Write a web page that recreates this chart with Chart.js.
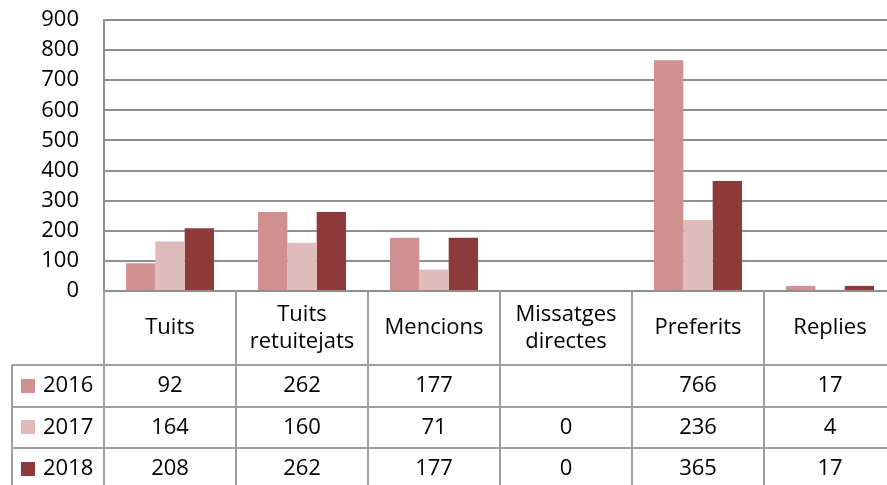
<!DOCTYPE html>
<html>
<head>
<meta charset="utf-8">
<script src="https://cdn.jsdelivr.net/npm/chart.js@4"></script>
<style>
  html, body { margin: 0; padding: 0; background: #fff; overflow: hidden; }
  #wrap { width: 887px; height: 485px; overflow: hidden; }
  canvas { display: block; }
</style>
</head>
<body>
<div id="wrap"><canvas id="chart" width="900" height="485"></canvas></div>
<script>
'use strict';

// ─── Data ─────────────────────────────────────────────────────────────────────
const categories = [['Tuits'], ['Tuits', 'retuitejats'], ['Mencions'], ['Missatges', 'directes'], ['Preferits'], ['Replies']];
const years      = ['2016', '2017', '2018'];
const values2016 = [92, 262, 177, null, 766, 17];
const values2017 = [164, 160, 71, 0, 236, 4];
const values2018 = [208, 262, 177, 0, 365, 17];
const yTicks     = [0, 100, 200, 300, 400, 500, 600, 700, 800, 900];

// ─── Style ────────────────────────────────────────────────────────────────────
const COLORS    = ['#d09191', '#e0bbbb', '#8e3a3a'];
const GRID      = '#8f8f8f';
const TABLE     = '#a0a0a0';
const FONT      = '"Open Sans", "DejaVu Sans", sans-serif';
const FONT_SIZE = 22;

const PLOT_LEFT  = 104;
const HEADER_H   = 74;   // category header row
const ROW_H      = 41.5; // one data row
const LEGEND_X   = 12;

// ─── Data table plugin (drawn below the x axis) ───────────────────────────────
const dataTable = {
  id: 'dataTable',
  afterDraw(chart) {
    const { ctx, chartArea } = chart;
    const x = chart.scales.x;
    const top = chartArea.bottom;
    const catW = x.getPixelForValue(1) - x.getPixelForValue(0);
    const bottom = chart.height + 10;
    const series = chart.data.datasets;

    ctx.save();
    ctx.strokeStyle = TABLE;
    ctx.lineWidth = 2;

    // vertical separators
    ctx.beginPath();
    for (let i = 0; i < categories.length; i++) {
      const lx = Math.round(x.getPixelForValue(i) - catW / 2);
      ctx.moveTo(lx, top);
      ctx.lineTo(lx, bottom);
    }
    const headerBottom = top + HEADER_H;
    ctx.moveTo(LEGEND_X, headerBottom);
    ctx.lineTo(LEGEND_X, bottom);
    // horizontal row lines
    for (let r = 0; r < series.length; r++) {
      const ly = Math.round(headerBottom + r * ROW_H);
      ctx.moveTo(LEGEND_X, ly);
      ctx.lineTo(chart.width, ly);
    }
    ctx.stroke();

    ctx.fillStyle = '#000';
    ctx.font = `${FONT_SIZE}px ${FONT}`;
    ctx.textAlign = 'center';
    ctx.textBaseline = 'middle';

    // header
    categories.forEach((lines, i) => {
      const cx = x.getPixelForValue(i);
      const cy = top + HEADER_H / 2;
      const lh = 27;
      lines.forEach((t, k) => {
        ctx.fillText(t, cx, cy + (k - (lines.length - 1) / 2) * lh);
      });
    });

    // rows
    series.forEach((ds, r) => {
      const cy = headerBottom + r * ROW_H + ROW_H / 2;
      ctx.fillStyle = ds.backgroundColor;
      ctx.fillRect(21, Math.round(cy - 7), 14, 14);
      ctx.fillStyle = '#000';
      ctx.textAlign = 'left';
      ctx.fillText(ds.label, 43, cy);
      ctx.textAlign = 'center';
      ds.data.forEach((v, i) => {
        if (v == null) return;
        ctx.fillText(String(v), x.getPixelForValue(i), cy);
      });
    });
    ctx.restore();
  },
};

// ─── Chart ────────────────────────────────────────────────────────────────────
new Chart(document.getElementById('chart').getContext('2d'), {
  type: 'bar',
  data: {
    labels: categories.map(c => c.join(' ')),
    datasets: years.map((y, i) => ({
      label: y,
      data: [values2016, values2017, values2018][i],
      backgroundColor: COLORS[i],
      borderColor: COLORS[i],
      borderWidth: 0,
      categoryPercentage: 0.667,
      barPercentage: 1,
    })),
  },
  options: {
    responsive: false,
    devicePixelRatio: 1,
    animation: false,
    layout: { padding: { top: 20, right: 4, bottom: 485 - 291, left: 0 } },
    plugins: { legend: { display: false }, tooltip: { enabled: false } },
    scales: {
      x: { display: false },
      y: {
        min: 0,
        max: 900,
        afterFit: s => {
          s.width = PLOT_LEFT;
          s.paddingTop = 0;
          s.paddingBottom = 0;
        },
        afterBuildTicks: s => { s.ticks = yTicks.map(v => ({ value: v })); },
        grid: { color: GRID, lineWidth: 2, drawTicks: false },
        border: { display: true, color: GRID, width: 2 },
        ticks: {
          color: '#000',
          padding: 25,
          font: { family: FONT, size: FONT_SIZE },
        },
      },
    },
  },
  plugins: [dataTable],
});
</script>
</body>
</html>
